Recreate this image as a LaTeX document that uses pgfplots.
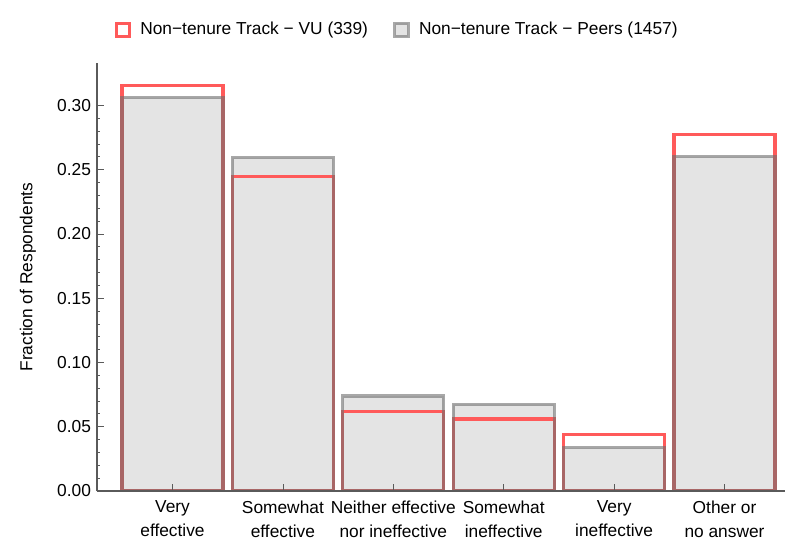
\documentclass[border=0pt]{standalone}
\usepackage{fontspec}
\setmainfont{Liberation Sans}
\usepackage{pgfplots}
\pgfplotsset{compat=1.18}
\usepackage{pgfplotstable}

\definecolor{vured}{RGB}{255,90,90}
\definecolor{peerfill}{RGB}{228,228,228}
\definecolor{peeredge}{RGB}{110,110,110}
\definecolor{axgray}{RGB}{90,90,90}

% fraction of respondents per answer (x = category index)
\pgfplotstableread{
x frac
0 0.3156
1 0.2448
2 0.0619
3 0.0560
4 0.0442
5 0.2773
}\vudata
\pgfplotstableread{
x frac
0 0.3061
1 0.2594
2 0.0738
3 0.0673
4 0.0336
5 0.2601
}\peerdata

\begin{document}
\begin{tikzpicture}
\fontsize{13}{15}\selectfont
\begin{axis}[
    scale only axis,
    width=516pt, height=321pt,
    xmin=-0.684, xmax=5.548,
    ymin=0, ymax=0.333,
    axis x line=bottom, axis y line=left,
    axis line style={-, axgray, line width=0.8pt},
    axis on top,
    tick align=inside,
    tick style={axgray, line width=0.6pt},
    major tick length=5pt, minor tick length=2.5pt,
    xtick={0,1,2,3,4,5},
    xticklabels={Very\\effective, Somewhat\\effective, Neither effective\\nor ineffective, Somewhat\\ineffective, Very\\ineffective, Other or\\no answer},
    xticklabel style={align=center, text depth=0pt, yshift=-3pt},
    x tick label style={font=\fontsize{13}{18}\selectfont},
    y tick label style={font=\fontsize{13}{15}\selectfont},
    ytick={0,0.05,0.1,0.15,0.2,0.25,0.3},
    minor y tick num=4,
    yticklabel style={/pgf/number format/.cd, fixed, fixed zerofill, precision=2},
    /pgf/number format/assume math mode=true,
    ylabel={Fraction of Respondents},
    ylabel style={yshift=7pt, font=\fontsize{13}{15}\selectfont},
    legend columns=2,
    legend style={draw=none, fill=none, at={(rel axis cs:0,1)}, anchor=west,
        xshift=10pt, yshift=24.75pt, font=\fontsize{13}{15}\selectfont,
        /tikz/every even column/.append style={column sep=17pt},
        /tikz/every odd column/.append style={column sep=5pt}},
    legend cell align=left,
]
\coordinate (ll) at (rel axis cs:0,0);
\coordinate (ur) at (rel axis cs:1,1);

\addplot[ybar, bar width=0.915, bar shift=0pt, fill=peerfill, draw=none, forget plot]
    table[x=x, y=frac] {\peerdata};
\addplot[ybar, bar width=0.915, bar shift=0pt, draw=vured, line width=2.5pt, fill=none, forget plot]
    table[x=x, y=frac] {\vudata};
\addplot[ybar, bar width=0.915, bar shift=0pt, draw=peeredge, draw opacity=0.6, line width=2.5pt, fill=none, forget plot]
    table[x=x, y=frac] {\peerdata};

\addlegendimage{legend image code/.code={
    \draw[draw=vured, line width=2.3pt, fill=white] (0pt,-5pt) rectangle (10pt,5pt);}}
\addlegendentry{Non−tenure Track − VU (339)}
\addlegendimage{legend image code/.code={
    \draw[draw=peeredge, draw opacity=0.6, line width=2.3pt, fill=peerfill] (0pt,-5pt) rectangle (10pt,5pt);}}
\addlegendentry{Non−tenure Track − Peers (1457)}
\end{axis}
\pgfresetboundingbox
\path[use as bounding box] ([shift={(-72.75pt,-39.75pt)}]ll) rectangle ([shift={(0pt,47.25pt)}]ur);
\end{tikzpicture}
\end{document}
